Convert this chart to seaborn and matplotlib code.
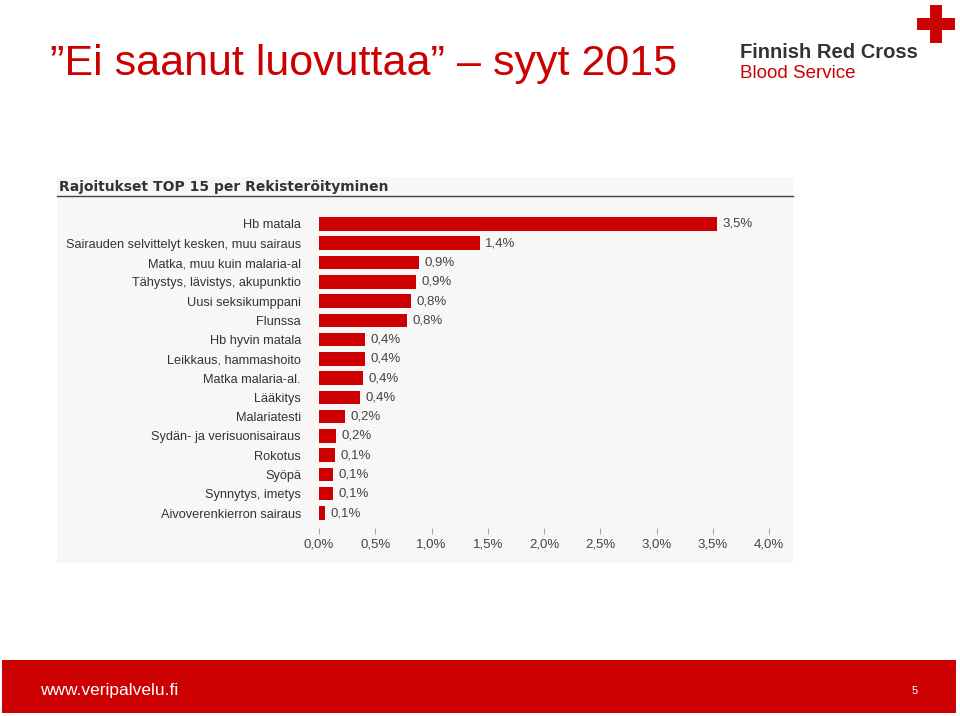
import pandas as pd
import numpy as np
import seaborn as sns
import matplotlib.pyplot as plt
from matplotlib.patches import Rectangle
from matplotlib.lines import Line2D

# data
reasons = ['Hb matala', 'Sairauden selvittelyt kesken, muu sairaus', 'Matka, muu kuin malaria-al',
           'Tähystys, lävistys, akupunktio', 'Uusi seksikumppani', 'Flunssa', 'Hb hyvin matala',
           'Leikkaus, hammashoito', 'Matka malaria-al.', 'Lääkitys', 'Malariatesti',
           'Sydän- ja verisuonisairaus', 'Rokotus', 'Syöpä', 'Synnytys, imetys', 'Aivoverenkierron sairaus']
shares = [3.54, 1.43, 0.89, 0.86, 0.82, 0.78, 0.41, 0.41, 0.39, 0.365, 0.23, 0.15, 0.14, 0.12, 0.12, 0.05]
value_labels = ['3,5%', '1,4%', '0,9%', '0,9%', '0,8%', '0,8%', '0,4%', '0,4%', '0,4%', '0,4%',
                '0,2%', '0,2%', '0,1%', '0,1%', '0,1%', '0,1%']
x_ticks = [0, 0.5, 1.0, 1.5, 2.0, 2.5, 3.0, 3.5, 4.0]
x_ticklabels = ['0,0%', '0,5%', '1,0%', '1,5%', '2,0%', '2,5%', '3,0%', '3,5%', '4,0%']

df = pd.DataFrame({'reason': reasons, 'share': shares})

W, H = 960, 716
red = '#cc0000'
plt.rcParams['font.family'] = ['Liberation Sans', 'DejaVu Sans']

fig = plt.figure(figsize=(W / 100, H / 100), dpi=100)
fig.patch.set_facecolor('white')

def fx(px):
    return px / W

def fy(py):
    return 1 - py / H

# grey chart panel
fig.patches.append(Rectangle((fx(57), fy(563)), fx(793) - fx(57), fy(177) - fy(563),
                             transform=fig.transFigure, facecolor='#f7f7f7', edgecolor='none', zorder=-5))
fig.text(fx(59), fy(187), 'Rajoitukset TOP 15 per Rekisteröityminen', fontsize=10, fontweight='bold',
         color='#333333', va='center', ha='left', family='DejaVu Sans')
fig.lines.append(Line2D([fx(57), fx(793)], [fy(196), fy(196)], transform=fig.transFigure,
                        color='#444444', linewidth=1))

# bar axes
top_px, bot_px = 212.4, 534
ax = fig.add_axes([fx(319), fy(bot_px), fx(769) - fx(319), fy(top_px) - fy(bot_px)])
ax.set_zorder(3)
sns.barplot(data=df, x='share', y='reason', orient='h', color=red, width=0.7,
            saturation=1, ax=ax, edgecolor='none')
step = 19.27
ax.set_ylim(-0.6 + (bot_px - top_px) / step, -0.6)
ax.set_xlim(0, 4.0)
ax.set_facecolor('none')
for s in ax.spines.values():
    s.set_visible(False)
ax.set_xlabel('')
ax.set_ylabel('')
ax.set_xticks(x_ticks)
ax.set_xticklabels(x_ticklabels, fontsize=9.5, color='#444444')
ax.tick_params(axis='x', direction='in', length=4, color='#aaaaaa', pad=3)
ax.tick_params(axis='y', length=0, pad=13)
for lbl in ax.get_yticklabels():
    lbl.set_fontsize(9.2)
    lbl.set_color('#333333')
for i, (v, t) in enumerate(zip(shares, value_labels)):
    ax.annotate(t, (v, i), xytext=(4, 0), textcoords='offset points', va='center',
                ha='left', fontsize=9.5, color='#444444')

# slide title
fig.text(fx(50), fy(64), '”Ei saanut luovuttaa” – syyt 2015', fontsize=31, color=red,
         va='center', ha='left')

# logo
fig.text(fx(740), fy(53), 'Finnish Red Cross', fontsize=14.5, fontweight='bold', color='#333333',
         va='center', ha='left')
fig.text(fx(740), fy(73), 'Blood Service', fontsize=13.5, color=red,
         va='center', ha='left')
fig.patches.append(Rectangle((fx(930), fy(43)), fx(942) - fx(930), fy(5) - fy(43),
                             transform=fig.transFigure, facecolor=red, edgecolor='none'))
fig.patches.append(Rectangle((fx(917), fy(30)), fx(955) - fx(917), fy(18) - fy(30),
                             transform=fig.transFigure, facecolor=red, edgecolor='none'))

# footer band
fig.patches.append(Rectangle((fx(2), fy(713)), fx(956) - fx(2), fy(660) - fy(713),
                             transform=fig.transFigure, facecolor=red, edgecolor='none'))
fig.text(fx(40), fy(690), 'www.veripalvelu.fi', fontsize=12.5, color='white',
         va='center', ha='left')
fig.text(fx(915), fy(691), '5', fontsize=8, color='white', va='center', ha='center')

plt.savefig('out.png', dpi=100)
